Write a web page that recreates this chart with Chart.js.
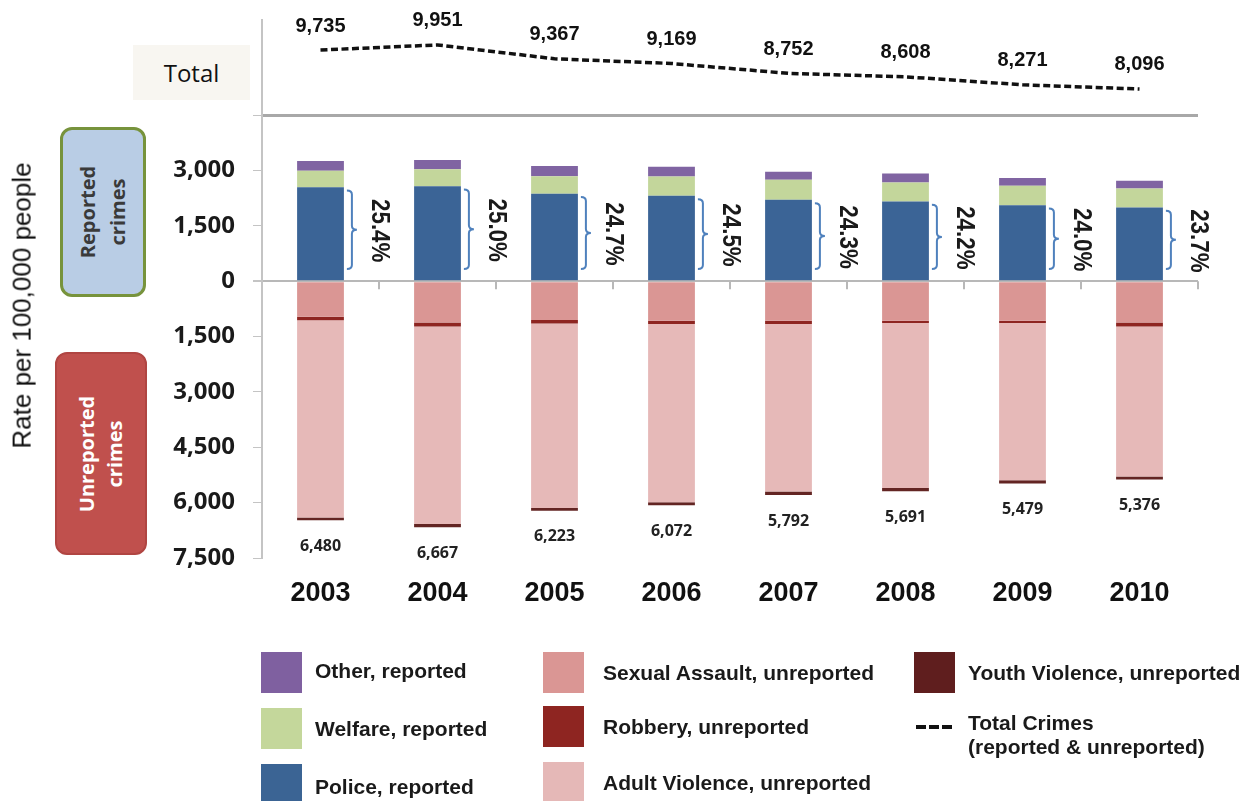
<!DOCTYPE html>
<html>
<head>
<meta charset="utf-8">
<script src="https://cdn.jsdelivr.net/npm/chart.js@4.4.1/dist/chart.umd.min.js"></script>
<style>
  body { margin: 0; background: #fff; font-family: 'Liberation Sans', Arial, sans-serif; }
  #wrap { position: relative; width: 1257px; height: 801px; overflow: hidden; }
  #chart { position: absolute; left: 0; top: 0; }
  .abs { position: absolute; }
  .box { position: absolute; display: flex; align-items: center; justify-content: center; box-sizing: border-box; }
  .rot { transform: rotate(-90deg); white-space: nowrap; text-align: center; }
  .sw { position: absolute; width: 41px; height: 41px; }
  .lt { position: absolute; font: bold 21px 'Liberation Sans', Arial, sans-serif; color: #1a1a1a; line-height: 24px; white-space: nowrap; }
</style>
</head>
<body>
<div id="wrap">
  <canvas id="chart" width="1257" height="801"></canvas>

  <div class="box" style="left:133px;top:45px;width:117px;height:55px;background:#f8f6f1;">
    <span style="font:24px 'Open Sans',sans-serif;color:#111;">Total</span>
  </div>

  <div class="box" style="left:-178px;top:290px;width:400px;height:30px;">
    <div class="rot" style="font:26px 'Liberation Sans',Arial,sans-serif;color:#111;">Rate per 100,000 people</div>
  </div>

  <div class="box" style="left:60px;top:127px;width:86px;height:170px;background:#b9cde5;border:3px solid #77933c;border-radius:12px;">
    <div class="rot" style="font:bold 20px/30px 'Open Sans',sans-serif;color:#3a3a3a;">Reported<br>crimes</div>
  </div>

  <div class="box" style="left:55px;top:352px;width:92px;height:203px;background:#c0504d;border:2px solid #b04542;border-radius:12px;">
    <div class="rot" style="font:bold 20px/28px 'Open Sans',sans-serif;color:#fff;">Unreported<br>crimes</div>
  </div>

  <div class="sw" style="left:261px;top:652px;background:#7f60a0;"></div>
  <div class="lt" style="left:315px;top:659px;">Other, reported</div>
  <div class="sw" style="left:261px;top:708px;background:#c4d79b;"></div>
  <div class="lt" style="left:315px;top:717px;">Welfare, reported</div>
  <div class="sw" style="left:261px;top:764px;background:#3b6494;"></div>
  <div class="lt" style="left:315px;top:775px;">Police, reported</div>

  <div class="sw" style="left:543px;top:652px;background:#da9694;"></div>
  <div class="lt" style="left:603px;top:661px;">Sexual Assault, unreported</div>
  <div class="sw" style="left:543px;top:706px;background:#8e2521;"></div>
  <div class="lt" style="left:603px;top:715px;">Robbery, unreported</div>
  <div class="sw" style="left:543px;top:762px;background:#e5b8b7;"></div>
  <div class="lt" style="left:603px;top:771px;">Adult Violence, unreported</div>

  <div class="sw" style="left:914px;top:652px;background:#5f1e1e;"></div>
  <div class="lt" style="left:968px;top:661px;">Youth Violence, unreported</div>
  <div class="abs" style="left:916px;top:725px;width:10px;height:4px;background:#111;"></div>
  <div class="abs" style="left:929px;top:725px;width:10px;height:4px;background:#111;"></div>
  <div class="abs" style="left:942px;top:725px;width:10px;height:4px;background:#111;"></div>
  <div class="lt" style="left:968px;top:711px;">Total Crimes<br>(reported &amp; unreported)</div>
</div>

<script>
const years = ['2003', '2004', '2005', '2006', '2007', '2008', '2009', '2010'];

// reported (drawn above zero)
const policeReported = [2545, 2572, 2370, 2310, 2201, 2157, 2058, 1996];
const welfareReported = [447, 456, 470, 525, 542, 515, 523, 514];
const otherReported = [263, 256, 280, 262, 217, 245, 211, 210];

// unreported (drawn below zero)
const sexualAssault = [967, 1119, 1056, 1074, 1074, 1074, 1074, 1119];
const robbery = [90, 108, 90, 90, 90, 60, 60, 108];
const adultViolence = [5348, 5355, 4997, 4828, 4533, 4472, 4260, 4064];
const youthViolence = [75, 85, 80, 80, 95, 85, 85, 85];

const totalCrimes = [9735, 9951, 9367, 9169, 8752, 8608, 8271, 8096];
const unreportedTotal = [6480, 6667, 6223, 6072, 5792, 5691, 5479, 5376];
const policeShare = [25.4, 25.0, 24.7, 24.5, 24.3, 24.2, 24.0, 23.7];

const neg = arr => arr.map(v => -v);
const fmt = v => v.toLocaleString('en-US');

function barSet(label, data, color) {
    return {
        label: label,
        data: data,
        backgroundColor: color,
        borderWidth: 0,
        stack: 'crimes',
        yAxisID: 'y',
        barPercentage: 0.4,
        categoryPercentage: 1.0,
    };
}

// fixed axis sizes, no label overflow padding
function fixWidth(s) {
    s.width = 262;
    s.paddingTop = 0;
    s.paddingBottom = 0;
}

// labels, brackets and the boundary ticks on the zero line
const overlay = {
    id: 'overlay',
    afterDatasetsDraw(chart) {
        const ctx = chart.ctx;
        const x = chart.scales.x;
        const y = chart.scales.y;
        const y2 = chart.scales.y2;
        const zero = y.getPixelForValue(0);
        ctx.save();

        // category boundary ticks
        ctx.strokeStyle = '#b8b8b8';
        ctx.lineWidth = 2;
        for (let i = 0; i < years.length; i++) {
            const bx = Math.round(x.getPixelForValue(i + 0.5));
            ctx.beginPath();
            ctx.moveTo(bx, zero);
            ctx.lineTo(bx, zero + 8);
            ctx.stroke();
        }

        const barW = x.getPixelForValue(1) - x.getPixelForValue(0);
        for (let i = 0; i < years.length; i++) {
            const cx = x.getPixelForValue(i);
            const right = cx + barW * 0.2;

            // total labels above line
            ctx.fillStyle = '#111';
            ctx.font = "bold 20px 'Liberation Sans', Arial, sans-serif";
            ctx.textAlign = 'center';
            ctx.textBaseline = 'middle';
            ctx.fillText(fmt(totalCrimes[i]), cx, y2.getPixelForValue(totalCrimes[i]) - 24);

            // unreported totals below bars
            ctx.fillStyle = '#222';
            ctx.font = "bold 16px 'Open Sans', sans-serif";
            ctx.fillText(fmt(unreportedTotal[i]), cx, y.getPixelForValue(-unreportedTotal[i]) + 26);

            // bracket next to police segment
            const top = y.getPixelForValue(policeReported[i] - 90);
            const bot = y.getPixelForValue(330);
            const mid = (top + bot) / 2;
            const x0 = right + 3, x1 = right + 8;
            ctx.strokeStyle = '#4f81bd';
            ctx.lineWidth = 2;
            ctx.beginPath();
            ctx.moveTo(x0, top);
            ctx.quadraticCurveTo(x1, top, x1, top + 4);
            ctx.lineTo(x1, mid - 4);
            ctx.quadraticCurveTo(x1, mid, x1 + 5, mid);
            ctx.quadraticCurveTo(x1, mid, x1, mid + 4);
            ctx.lineTo(x1, bot - 4);
            ctx.quadraticCurveTo(x1, bot, x0, bot);
            ctx.stroke();

            // rotated share label
            ctx.save();
            ctx.translate(right + 35, mid + 1);
            ctx.rotate(Math.PI / 2);
            ctx.scale(0.86, 1);
            ctx.fillStyle = '#1a1a1a';
            ctx.font = "bold 26px 'Liberation Sans', Arial, sans-serif";
            ctx.fillText(policeShare[i].toFixed(1) + '%', 0, 0);
            ctx.restore();
        }
        ctx.restore();
    }
};

const ctx = document.getElementById('chart').getContext('2d');
const chart = new Chart(ctx, {
    type: 'bar',
    data: {
        labels: years,
        datasets: [
            barSet('Police, reported', policeReported, '#3b6496'),
            barSet('Welfare, reported', welfareReported, '#c3d69b'),
            barSet('Other, reported', otherReported, '#8064a2'),
            barSet('Sexual Assault, unreported', neg(sexualAssault), '#da9694'),
            barSet('Robbery, unreported', neg(robbery), '#8e2521'),
            barSet('Adult Violence, unreported', neg(adultViolence), '#e6b9b8'),
            barSet('Youth Violence, unreported', neg(youthViolence), '#632523'),
            {
                type: 'line',
                label: 'Total Crimes (reported & unreported)',
                data: totalCrimes,
                yAxisID: 'y2',
                borderColor: '#111',
                borderWidth: 3.5,
                borderDash: [7, 3.5],
                pointRadius: 0,
                fill: false,
                tension: 0,
            },
        ],
    },
    options: {
        responsive: false,
        animation: false,
        layout: { padding: { top: 20, right: 59, bottom: 183, left: 0 } },
        plugins: {
            legend: { display: false },
            tooltip: { enabled: false },
        },
        scales: {
            x: {
                stacked: true,
                grid: { display: false, drawTicks: false },
                border: { display: false },
                ticks: {
                    color: '#111',
                    padding: 19,
                    font: { family: "'Liberation Sans', Arial, sans-serif", size: 27, weight: 'bold' },
                },
                afterFit: s => { s.height = 60; },
            },
            y: {
                stacked: true,
                position: 'left',
                stack: 'panels',
                stackWeight: 443,
                weight: 0,
                min: -7500,
                max: 4500,
                ticks: {
                    stepSize: 1500,
                    autoSkip: false,
                    padding: 18,
                    color: '#1a1a1a',
                    font: { family: "'Open Sans', sans-serif", size: 24, weight: 'bold' },
                    callback: v => (v === 4500 ? '' : fmt(Math.abs(v))),
                },
                grid: {
                    tickLength: 9,
                    tickColor: '#c4c4c4',
                    color: c => (c.tick && c.tick.value === 0 ? '#b8b8b8' : 'rgba(0,0,0,0)'),
                    lineWidth: c => (c.tick && c.tick.value === 0 ? 2 : 1),
                },
                border: { color: '#c4c4c4', width: 2 },
                afterFit: fixWidth,
            },
            y2: {
                position: 'left',
                stack: 'panels',
                stackWeight: 95,
                weight: 1,
                min: 7000,
                max: 11000,
                ticks: { display: false, stepSize: 4000 },
                grid: {
                    drawTicks: false,
                    color: c => (c.tick && c.tick.value === 7000 ? '#a8a8a8' : 'rgba(0,0,0,0)'),
                    lineWidth: 3,
                },
                border: { color: '#c4c4c4', width: 2 },
                afterFit: fixWidth,
            },
        },
    },
    plugins: [overlay],
});
</script>
</body>
</html>
